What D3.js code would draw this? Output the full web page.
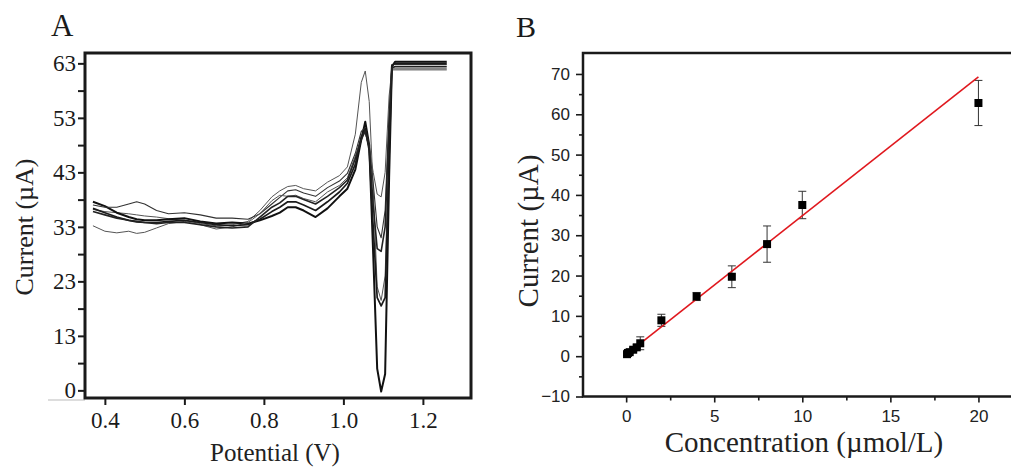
<!DOCTYPE html>
<html>
<head>
<meta charset="utf-8">
<script src="https://cdn.jsdelivr.net/npm/d3@7"></script>
<style>
  body { margin: 0; background: #fff; }
  svg { display: block; }
  .serif { font-family: "Liberation Serif", "Times New Roman", serif; }
  .sans { font-family: "Liberation Sans", Arial, sans-serif; }
</style>
</head>
<body>
<svg id="chart" width="1011" height="468"></svg>
<script>
// ---- panel A : voltammograms ----
const potential = [0.37, 0.40, 0.43, 0.46, 0.48, 0.50, 0.53, 0.56, 0.60, 0.64, 0.68, 0.72, 0.76, 0.79, 0.82, 0.84, 0.86, 0.88, 0.90, 0.93, 0.96, 0.99, 1.01, 1.03, 1.045, 1.055, 1.065, 1.075, 1.085, 1.095, 1.105, 1.115, 1.122, 1.13, 1.26];
const curveA = [36.2, 35.8, 35.6, 35.4, 35.2, 35.0, 34.8, 34.5, 34.2, 33.6, 33.2, 33.4, 34.0, 36.0, 38.5, 39.6, 40.4, 40.6, 40.0, 39.6, 41.2, 42.4, 44.0, 50.0, 59.5, 61.6, 56.0, 40.0, 22.0, 19.5, 24.0, 50.0, 61.8, 61.8, 61.8];
const curveB = [37.6, 36.8, 35.6, 34.8, 34.4, 34.2, 34.2, 34.4, 34.6, 34.0, 33.6, 33.8, 33.6, 34.2, 35.0, 35.6, 36.6, 36.6, 36.0, 34.8, 36.4, 38.6, 40.0, 43.5, 49.0, 52.3, 48.0, 28.0, 7.0, 2.8, 6.0, 42.0, 62.4, 63.3, 63.3];
const curveC = [37.0, 36.6, 36.6, 37.2, 37.6, 37.2, 36.0, 35.4, 35.6, 35.2, 34.6, 34.6, 34.4, 35.4, 37.2, 38.4, 39.6, 39.8, 39.2, 38.6, 40.2, 41.4, 42.8, 46.5, 50.5, 51.2, 48.0, 41.0, 33.0, 31.0, 36.0, 54.0, 62.8, 62.8, 62.8];
const curveD = [33.2, 32.2, 31.9, 32.2, 31.8, 32.0, 32.8, 33.6, 34.0, 33.4, 32.6, 33.0, 33.8, 35.4, 37.8, 38.8, 38.6, 38.8, 38.2, 37.6, 39.4, 40.6, 42.0, 46.0, 49.6, 50.2, 47.5, 43.0, 39.0, 38.5, 43.0, 57.0, 62.0, 62.0, 62.0];
const curveE = [36.4, 35.6, 34.8, 34.2, 33.9, 33.8, 33.8, 34.0, 34.2, 33.8, 33.4, 33.2, 33.4, 34.4, 35.8, 36.6, 37.6, 37.6, 37.0, 36.0, 37.6, 39.4, 41.0, 44.5, 49.5, 51.0, 47.0, 33.0, 20.0, 18.5, 20.0, 46.0, 62.6, 63.0, 63.0];
const curveF = [35.8, 35.2, 34.6, 34.2, 34.0, 33.8, 33.6, 33.8, 33.8, 33.4, 33.0, 32.8, 33.0, 34.8, 36.6, 37.4, 38.6, 38.6, 38.0, 37.2, 38.6, 40.2, 41.6, 45.5, 49.0, 50.6, 47.5, 37.0, 29.0, 28.5, 33.0, 52.0, 62.2, 62.4, 62.4];
const potentialTicks = [0.4, 0.6, 0.8, 1.0, 1.2];
const currentTicksA = [63, 53, 43, 33, 23, 13, 3];
const currentLabelsA = ["63", "53", "43", "33", "23", "13", "0"];   // the printed bottom label reads 0

// ---- panel B : calibration ----
const concentration = [0.05, 0.1, 0.2, 0.4, 0.6, 0.8, 2, 4, 6, 8, 10, 20];
const currentB = [0.5, 0.8, 1.0, 1.6, 2.2, 3.2, 8.9, 14.8, 19.7, 27.8, 37.5, 62.8];
const currentErr = [0.3, 0.3, 0.4, 0.5, 0.6, 1.6, 1.5, 1.0, 2.7, 4.5, 3.4, 5.6];
const fitSlope = 3.445, fitIntercept = 0.4;
const concTicks = [0, 5, 10, 15, 20];
const currentTicksB = [-10, 0, 10, 20, 30, 40, 50, 60, 70];

const svg = d3.select("#chart");
const ink = "#1a1a1a";

// ================= panel A =================
const A = { left: 85, right: 471, top: 53, bottom: 398 };
const xA = d3.scaleLinear().domain([0.35, 1.321]).range([A.left, A.right]);
const yA = d3.scaleLinear().domain([1.6, 64.9]).range([A.bottom, A.top]);

const gA = svg.append("g").attr("class", "panel-a");

gA.append("clipPath").attr("id", "clipA")
  .append("rect").attr("x", A.left).attr("y", A.top)
  .attr("width", A.right - A.left).attr("height", A.bottom - A.top);

const curves = [curveA, curveB, curveC, curveD, curveE, curveF];
const widths = [1, 2, 1.1, 1, 1.7, 1.6];
const greys = ["#555", "#111", "#333", "#555", "#1a1a1a", "#222"];
const line = d3.line().x((d, i) => xA(potential[i])).y(d => yA(d));

gA.append("g").attr("clip-path", "url(#clipA)")
  .selectAll("path").data(curves).join("path")
  .attr("d", line)
  .attr("fill", "none")
  .attr("stroke", (d, i) => greys[i])
  .attr("stroke-width", (d, i) => widths[i])
  .attr("stroke-linejoin", "round");

// y axis (left), major + minor ticks
gA.append("g").attr("transform", `translate(${A.left},0)`)
  .call(d3.axisLeft(yA).tickValues(currentTicksA)
    .tickFormat((d, i) => currentLabelsA[i]).tickSize(7).tickPadding(2));
gA.append("g").attr("transform", `translate(${A.left},0)`)
  .call(d3.axisLeft(yA).tickValues(currentTicksA.slice(0, -1).map(d => d - 5))
    .tickFormat("").tickSize(7));
gA.append("g").attr("transform", `translate(0,${A.bottom})`)
  .call(d3.axisBottom(xA).tickValues(potentialTicks)
    .tickFormat(d3.format(".1f")).tickSize(7).tickPadding(7));

gA.selectAll(".domain").remove();
gA.selectAll(".tick line").attr("stroke", ink).attr("stroke-width", 2);
gA.selectAll(".tick text").attr("class", "serif").attr("font-size", 23).attr("fill", ink);

// thin baseline running left of the frame
gA.append("line").attr("x1", 48).attr("x2", A.left).attr("y1", A.bottom + 2).attr("y2", A.bottom + 2)
  .attr("stroke", "#bbb").attr("stroke-width", 1);

gA.append("rect").attr("x", A.left).attr("y", A.top)
  .attr("width", A.right - A.left).attr("height", A.bottom - A.top)
  .attr("fill", "none").attr("stroke", ink).attr("stroke-width", 3);

gA.append("text").attr("class", "serif").attr("x", 51).attr("y", 36)
  .attr("font-size", 31).attr("fill", ink).text("A");
gA.append("text").attr("class", "serif")
  .attr("transform", `translate(33,227)rotate(-90)`)
  .attr("text-anchor", "middle").attr("font-size", 26).attr("fill", "#222")
  .text("Current (\u00b5A)");
gA.append("text").attr("class", "serif").attr("x", 275).attr("y", 461)
  .attr("text-anchor", "middle").attr("font-size", 25).attr("fill", "#222")
  .text("Potential (V)");

// ================= panel B =================
const B = { left: 583, right: 1023, top: 53, bottom: 396.5 };
const xB = d3.scaleLinear().domain([-2.45, 22.53]).range([B.left, B.right]);
const yB = d3.scaleLinear().domain([-10, 75.2]).range([B.bottom, B.top]);

const gB = svg.append("g").attr("class", "panel-b");

gB.append("g").attr("transform", `translate(${B.left},0)`)
  .call(d3.axisLeft(yB).tickValues(currentTicksB).tickSize(7).tickPadding(6));
gB.append("g").attr("transform", `translate(${B.left},0)`)
  .call(d3.axisLeft(yB).tickValues(currentTicksB.slice(0, -1).map(d => d + 5)).tickFormat("").tickSize(4));
gB.append("g").attr("transform", `translate(0,${B.bottom})`)
  .call(d3.axisBottom(xB).tickValues(concTicks).tickSize(6).tickPadding(7));
gB.append("g").attr("transform", `translate(0,${B.bottom})`)
  .call(d3.axisBottom(xB).tickValues(concTicks.slice(0, -1).map(d => d + 2.5)).tickFormat("").tickSize(4));

gB.selectAll(".domain").remove();
gB.selectAll(".tick line").attr("stroke", ink).attr("stroke-width", 1.6);
gB.selectAll(".tick text").attr("class", "sans").attr("font-size", 17).attr("fill", "#222");

// frame (open on the right, runs off the page)
gB.append("path")
  .attr("d", `M${B.right},${B.top}H${B.left}V${B.bottom}H${B.right}`)
  .attr("fill", "none").attr("stroke", ink).attr("stroke-width", 2.5);

// error bars
const eb = gB.append("g").attr("stroke", "#333").attr("stroke-width", 1);
concentration.forEach((c, i) => {
  const x = xB(c), y0 = yB(currentB[i] - currentErr[i]), y1 = yB(currentB[i] + currentErr[i]);
  eb.append("line").attr("x1", x).attr("x2", x).attr("y1", y0).attr("y2", y1);
  eb.append("line").attr("x1", x - 4).attr("x2", x + 4).attr("y1", y0).attr("y2", y0);
  eb.append("line").attr("x1", x - 4).attr("x2", x + 4).attr("y1", y1).attr("y2", y1);
});

// fitted line
gB.append("line")
  .attr("x1", xB(0)).attr("y1", yB(fitIntercept))
  .attr("x2", xB(20)).attr("y2", yB(fitIntercept + fitSlope * 20))
  .attr("stroke", "#e0181e").attr("stroke-width", 1.6);

gB.append("g").selectAll("rect").data(concentration).join("rect")
  .attr("x", d => xB(d) - 4).attr("y", (d, i) => yB(currentB[i]) - 4)
  .attr("width", 8).attr("height", 8).attr("fill", "#000");

gB.append("text").attr("class", "serif").attr("x", 516).attr("y", 37)
  .attr("font-size", 30).attr("fill", ink).text("B");
gB.append("text").attr("class", "serif")
  .attr("transform", `translate(538,231)rotate(-90)`)
  .attr("text-anchor", "middle").attr("font-size", 29).attr("fill", "#222")
  .text("Current (\u00b5A)");
gB.append("text").attr("class", "serif").attr("x", 804).attr("y", 452)
  .attr("text-anchor", "middle").attr("font-size", 29).attr("fill", "#222")
  .text("Concentration (\u00b5mol/L)");
</script>
</body>
</html>
